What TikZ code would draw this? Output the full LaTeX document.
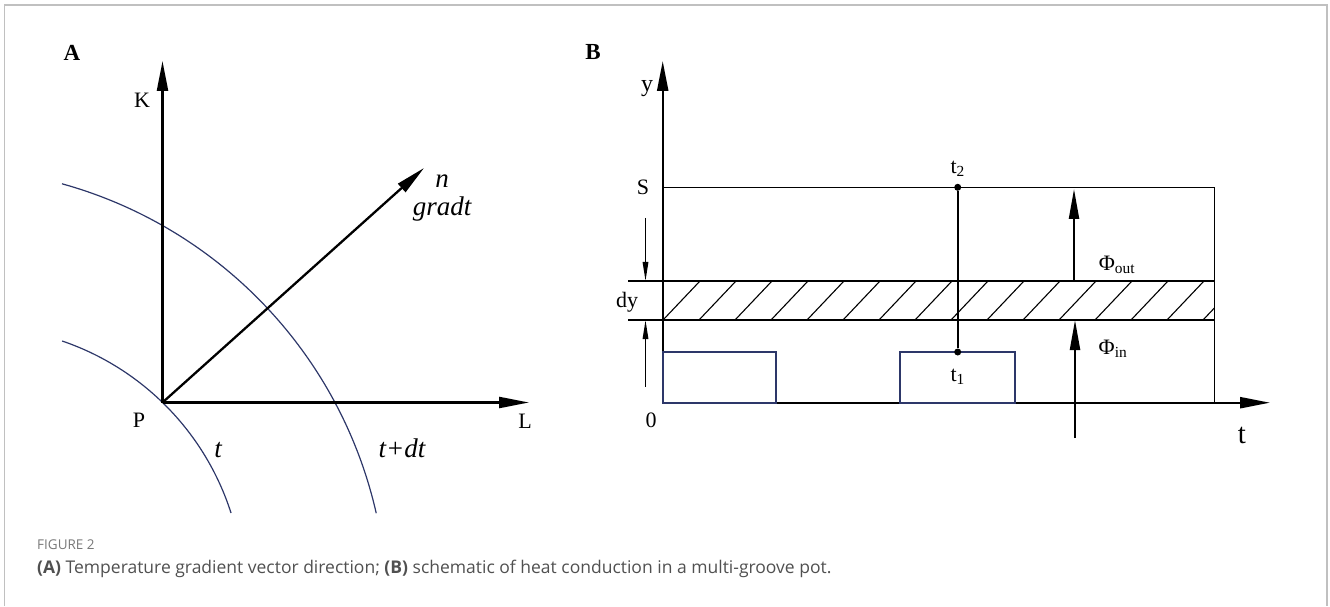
\documentclass[tikz,border=0pt]{standalone}
\usepackage{fontspec}
\setmainfont{Liberation Serif}
\newfontfamily\capfont{Open Sans}
\usetikzlibrary{arrows.meta, positioning}
\definecolor{isoblue}{RGB}{45, 55, 105}
\definecolor{framegray}{RGB}{192, 192, 192}
\definecolor{capgray}{RGB}{80, 80, 80}
\definecolor{figgray}{RGB}{120, 120, 120}
\tikzset{
  axisarrow/.style={line width=2.3pt, -{Triangle[length=30pt, width=11pt]}},
  isoline/.style={isoblue, line width=1.2pt},
  thinline/.style={line width=1.2pt},
  bandline/.style={line width=2pt},
  hatchline/.style={line width=1.1pt},
  fluxarrow/.style={line width=2.2pt, -{Triangle[length=30pt, width=10pt]}},
  dyarrow/.style={line width=1.5pt, -{Triangle[length=19pt, width=5.5pt]}},
  slotbox/.style={isoblue, line width=1.6pt},
  tempdot/.style={circle, fill, inner sep=0pt, minimum size=7pt},
  axlabel/.style={font=\fontsize{22}{24}\selectfont, inner sep=0pt},
  itlabel/.style={font=\fontsize{27}{30}\selectfont\itshape, inner sep=0pt},
  panel/.style={font=\fontsize{23}{26}\selectfont\bfseries, inner sep=0pt},
}

\begin{document}
\begin{tikzpicture}[x=1pt, y=1pt]
  \useasboundingbox (0,0) rectangle (1330,606);
  \draw[framegray, line width=1.5pt] (4.5,0) -- (4.5,601) -- (1327,601) -- (1327,0);

  % panel A
  \node[panel] (pa) at (72,553) {A};
  \coordinate (P) at (162.5,203.5);
  \coordinate (Ktip) at (162.5,545);
  \coordinate (Ltip) at (529,203.5);
  \coordinate (Ntip) at (424,438);
  \draw[isoline] (-24.2,11.3) ++(71.2:268pt) arc[start angle=71.2, end angle=17.75, radius=268pt];
  \draw[isoline] (-56.7,-5.6) ++(74.5:444pt) arc[start angle=74.5, end angle=12.8, radius=444pt];
  \draw[axisarrow] (P) -- (Ktip);
  \draw[axisarrow] (P) -- (Ltip);
  \draw[axisarrow] (P) -- (Ntip);
  \node[axlabel] (klab) at (142,506) {K};
  \node[axlabel] (plab) at (139,186) {P};
  \node[axlabel] (llab) at (525,185) {L};
  \node[itlabel] (nlab) at (442,425) {n};
  \node[itlabel, below=9pt of nlab] (gradlab) {gradt};
  \node[itlabel] (tlab) at (218,156) {t};
  \node[itlabel] (tdtlab) at (402,158) {t+dt};

  % panel B
  \node[panel] (pb) at (593,554) {B};
  \coordinate (O) at (662.7,203.3);
  \coordinate (Ytip) at (662.7,545);
  \coordinate (Ttip) at (1270,203.3);
  \draw[thinline] (662.7,418.7) -- (1214.3,418.7) -- (1214.3,203.3);
  \begin{scope}
    \clip (662.7,286) rectangle (1214.3,325);
    \foreach \k in {0,...,15}
      \draw[hatchline] (663+36*\k,286) -- ++(37,39);
  \end{scope}
  \draw[bandline] (628,325) -- (1214.3,325);
  \draw[bandline] (628,286) -- (1214.3,286);
  \draw[axisarrow] (O) -- (Ytip);
  \draw[axisarrow] (O) -- (Ttip);
  \draw[slotbox] (662.7,203.3) rectangle (776,254);
  \draw[slotbox] (900,203.3) rectangle (1015,254);
  \node[tempdot] (t2) at (957.7,418.7) {};
  \node[tempdot] (t1) at (957.7,254) {};
  \draw[line width=2pt] (t2) -- (t1);
  \node[axlabel, above=7pt of t2] (t2lab) {t\textsubscript{2}};
  \node[axlabel, below=13pt of t1] (t1lab) {t\textsubscript{1}};
  \coordinate (dytop) at (645.5,388);
  \coordinate (dybot) at (645.5,219.3);
  \draw[dyarrow] (dytop) -- (645.5,325);
  \draw[dyarrow] (dybot) -- (645.5,286);
  \coordinate (outbase) at (1074,326);
  \coordinate (outtip) at (1074,417);
  \coordinate (inbase) at (1075,168);
  \coordinate (intip) at (1075,286);
  \draw[fluxarrow] (outbase) -- (outtip);
  \draw[fluxarrow] (inbase) -- (intip);
  \node[axlabel] (phiout) at (1117,341) {Φ\textsubscript{out}};
  \node[axlabel] (phiin) at (1113,257) {Φ\textsubscript{in}};
  \node[axlabel] (slab) at (643,419) {S};
  \node[axlabel, font=\fontsize{24}{26}\selectfont] (ylab) at (647,517) {y};
  \node[axlabel] (dylab) at (627,304) {dy};
  \node[axlabel] (zlab) at (651,186) {0};
  \node[axlabel, font=\fontsize{29}{32}\selectfont] (tax) at (1242,171) {t};

  % caption
  \node[anchor=west, inner sep=0pt, figgray, font=\capfont\fontsize{13.5}{15}\selectfont] (fig) at (37,61) {FIGURE 2};
  \node[anchor=west, inner sep=0pt, capgray, font=\capfont\fontsize{17.5}{20}\selectfont] (cap) at (37,37)
    {\textbf{(A)} Temperature gradient vector direction; \textbf{(B)} schematic of heat conduction in a multi-groove pot.};
\end{tikzpicture}
\end{document}
